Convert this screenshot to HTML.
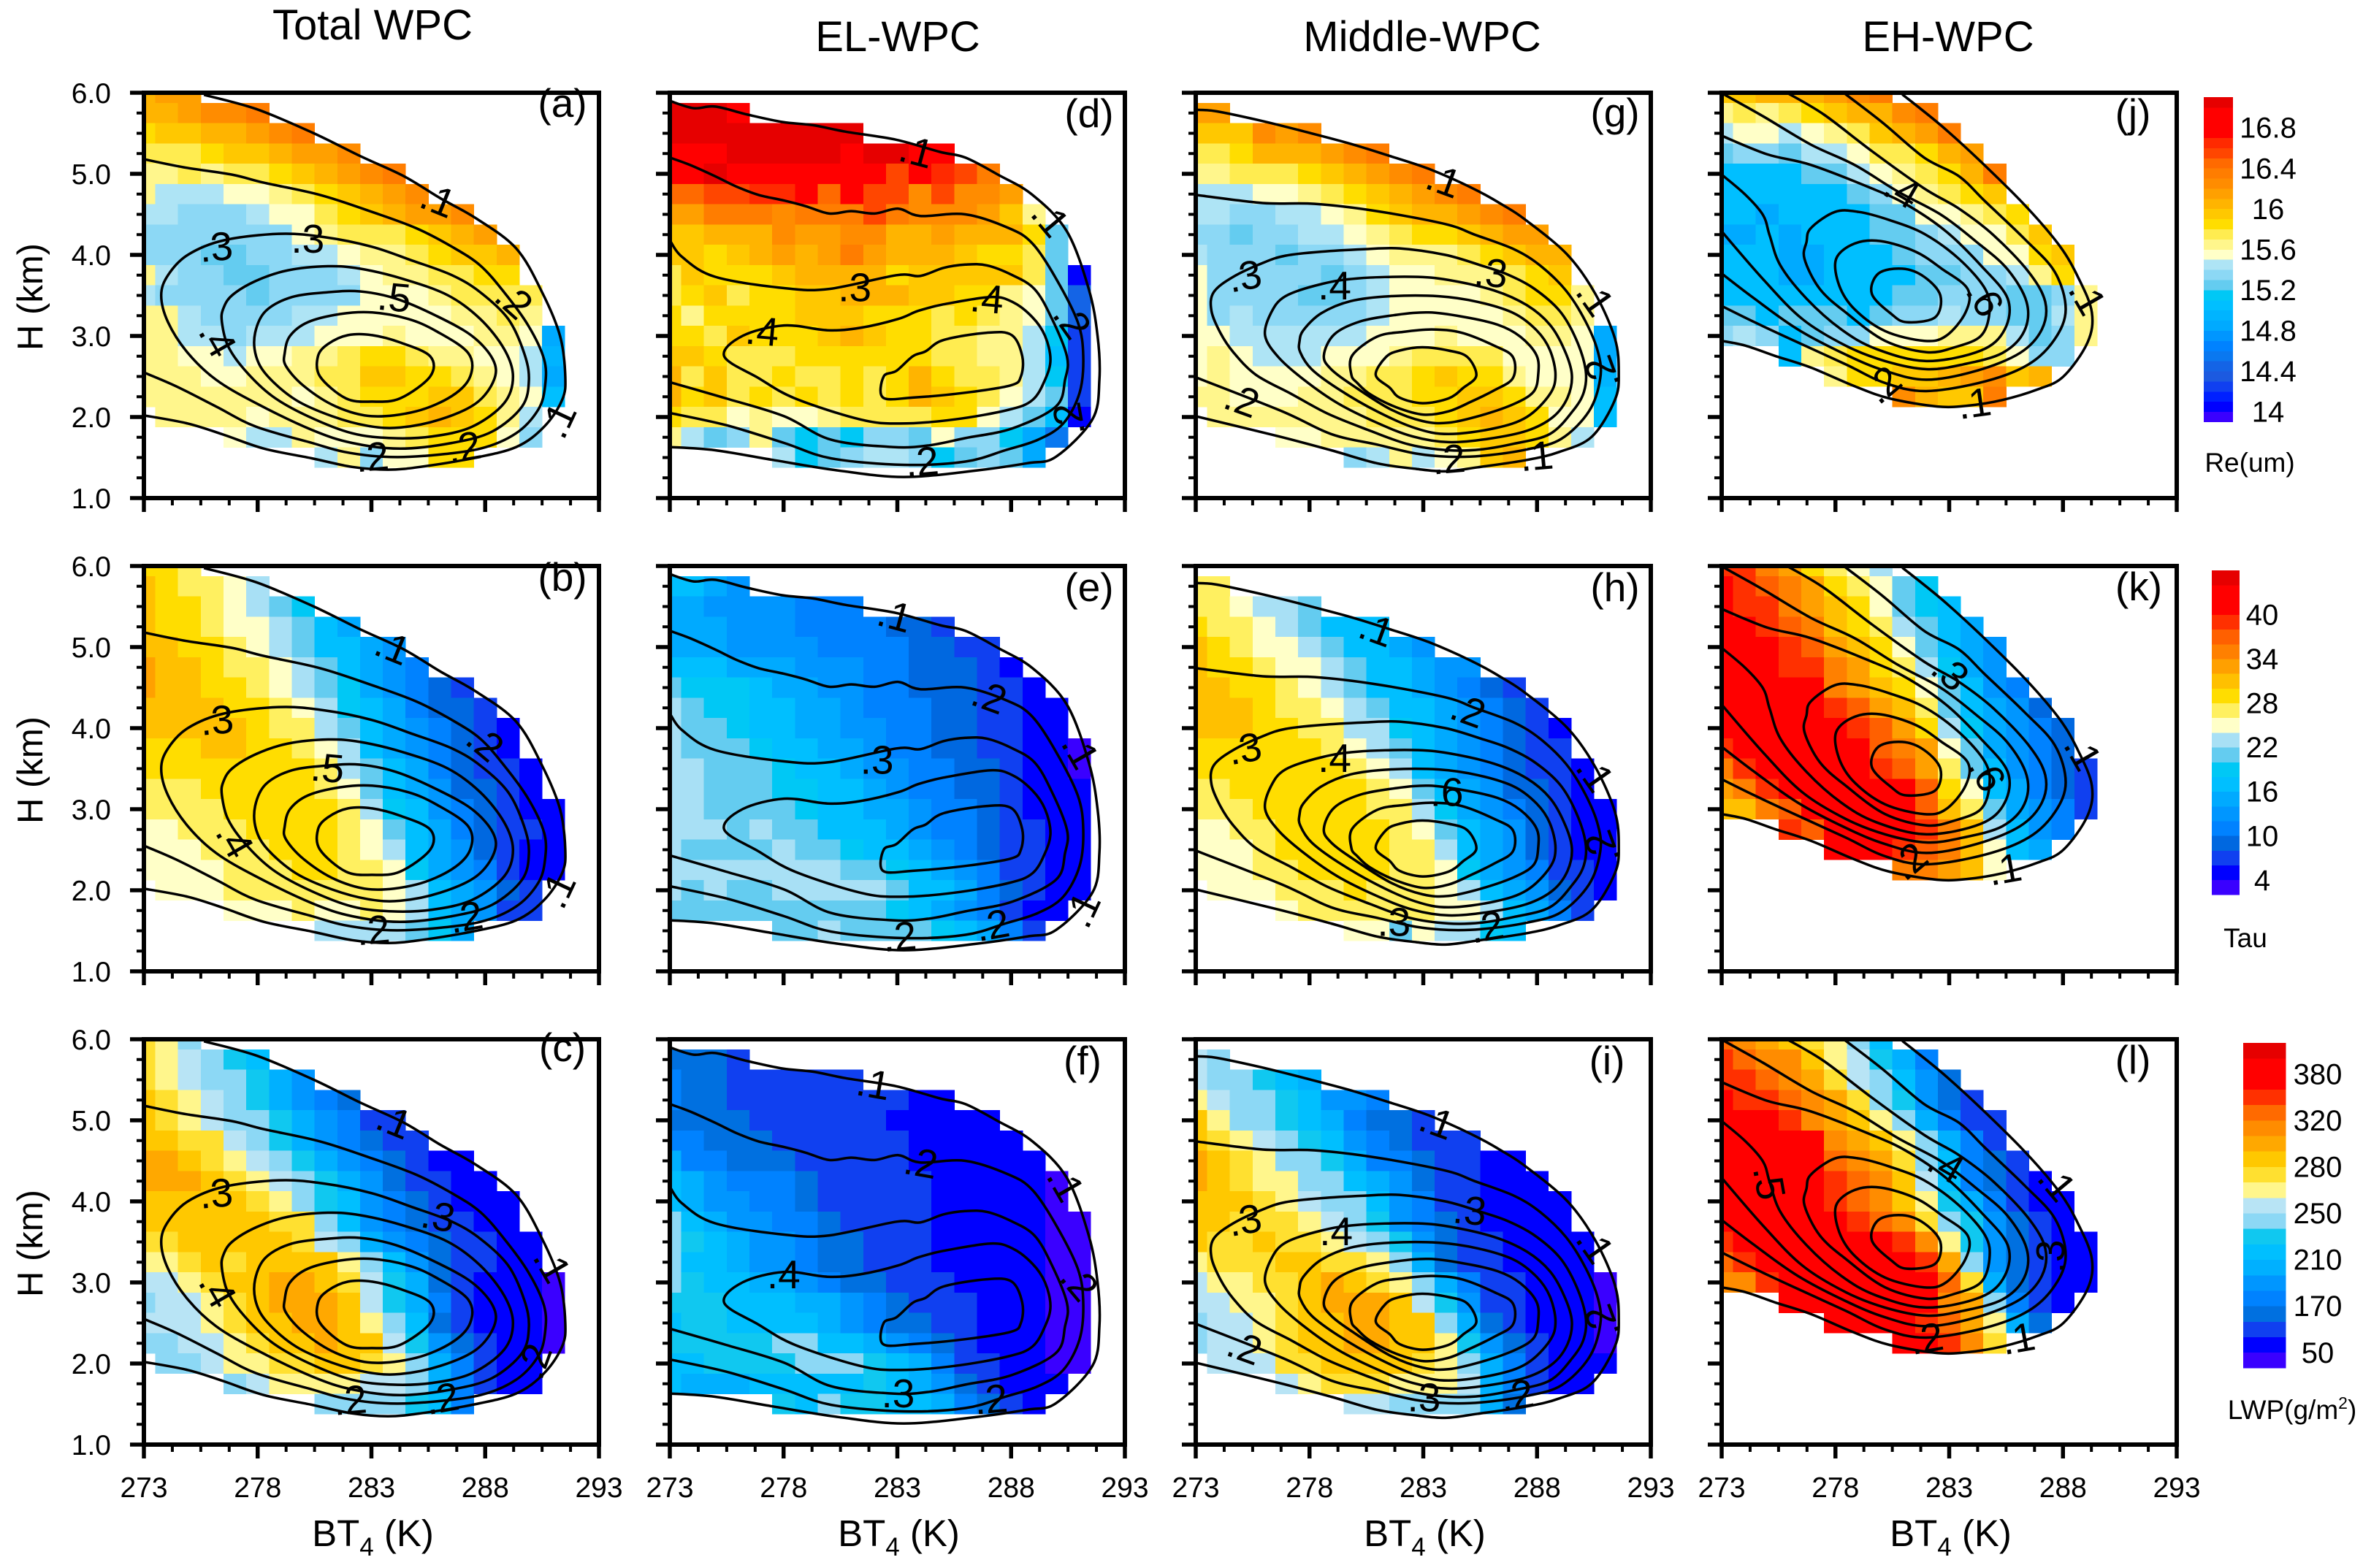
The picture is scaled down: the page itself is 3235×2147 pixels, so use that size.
<!DOCTYPE html>
<html lang="en">
<head>
<meta charset="utf-8">
<title>WPC cloud property panels</title>
<style>
html,body{margin:0;padding:0;background:#fff;}
svg{display:block;}
text{font-family:"Liberation Sans",Arial,sans-serif;fill:#000;}
</style>
</head>
<body>
<svg id="chart" xmlns="http://www.w3.org/2000/svg" width="3235" height="2147" viewBox="0 0 3235 2147">
<rect x="0" y="0" width="3235" height="2147" fill="#ffffff"></rect>
</svg>
<script>
const _ = null;
/* Tick labels */
const xTickValues = [273, 278, 283, 288, 293];
const yTickValues = [6, 5, 4, 3, 2, 1];
const yTickLabels = ['6.0', '5.0', '4.0', '3.0', '2.0', '1.0'];
const columnTitles = ['Total WPC', 'EL-WPC', 'Middle-WPC', 'EH-WPC'];

/* Colour scales */
const reLevels = [13.9,14,14.1,14.2,14.3,14.4,14.5,14.6,14.7,14.8,14.9,15,15.1,15.2,15.3,15.4,15.5,15.6,15.7,15.8,15.9,16,16.1,16.2,16.3,16.4,16.5,16.6,16.7,16.8,16.9,17,17.1];
const reColors = ['#3a00ff','#0000ff','#0020ff','#1040f0','#1c5ae0','#1464e6','#0a78f0','#0082ff','#0096ff','#00aaff','#00b4ff','#00bfff','#00c8f5','#64ccf0','#8cd8f5','#aee4f5','#ffffc8','#fff68c','#ffec50','#ffdd00','#ffc800','#ffb400','#ffa000','#ff8c00','#ff7d00','#ff6a00','#ff4600','#ff2a00','#ff0000','#ff0000','#ff0000','#e60000'];
const reTicks = [14,14.4,14.8,15.2,15.6,16,16.4,16.8];
const tauLevels = [2,4,6,8,10,12,14,16,18,20,22,24,26,28,30,32,34,36,38,40,42,44,46];
const tauColors = ['#3a00ff','#0000ff','#1040f0','#0068e0','#0082ff','#0096ff','#00aaff','#00bfff','#00c8f5','#64ccf0','#a8e0f5','#ffffc8','#fff060','#ffdd00','#ffc000','#ffa000','#ff8000','#ff6000','#ff3000','#ff0000','#ff0000','#e60000'];
const tauTicks = [4,10,16,22,28,34,40];
const lwpLevels = [10,50,90,130,170,183,197,210,223,237,250,260,270,280,293,307,320,340,360,380,400,420];
const lwpColors = ['#3a00ff','#0000ff','#1040f0','#0070e0','#0082ff','#0096ff','#00b0ff','#00bfff','#10c8f0','#8cd8f5','#b8e4f5','#fff68c','#ffe030','#ffc800','#ffa800','#ff8c00','#ff6a00','#ff3000','#ff0000','#ff0000','#e60000'];
const lwpTicks = [50,170,210,250,280,320,380];

/* Heatmap values: rows H = 6.0 ... 1.5 (0.25 km), columns BT4 = 273 ... 291 (1 K) */
const reTotal = [
[16,16.1,16.1],
[16,16,16.1,16.2,16.2,16.3],
[15.8,15.9,15.9,16,16,16.1,16.2,16.3],
[15.7,15.7,15.7,15.8,15.9,15.9,16,16.1,16.1,16.2],
[15.6,15.6,15.7,15.6,15.7,15.7,15.8,15.9,16,16.1,16.2,16.3],
[15.6,15.4,15.4,15.4,15.5,15.5,15.6,15.7,15.8,15.9,16,16.1,16.2],
[15.4,15.4,15.3,15.3,15.3,15.4,15.5,15.5,15.7,15.8,15.9,16,16.1,16.1,16.2],
[15.3,15.3,15.3,15.3,15.3,15.3,15.3,15.5,15.6,15.7,15.7,15.7,15.8,15.9,16,16.1],
[15.3,15.3,15.3,15.2,15.2,15.3,15.3,15.4,15.4,15.5,15.6,15.6,15.7,15.8,15.9,15.9,16],
[15.6,15.4,15.3,15.3,15.2,15.2,15.3,15.3,15.3,15.4,15.5,15.6,15.6,15.7,15.7,15.8,15.8],
[15.4,15.3,15.3,15.3,15.3,15.2,15.3,15.3,15.3,15.3,15.5,15.5,15.5,15.6,15.7,15.7,15.7,15.7],
[15.6,15.6,15.4,15.3,15.3,15.3,15.3,15.4,15.4,15.5,15.5,15.5,15.5,15.5,15.6,15.6,15.7,15.6],
[15.6,15.6,15.4,15.4,15.3,15.4,15.4,15.4,15.5,15.5,15.5,15.6,15.5,15.5,15.5,15.6,15.6,15.5,14.8],
[15.6,15.6,15.5,15.5,15.4,15.5,15.5,15.6,15.6,15.7,15.8,15.8,15.7,15.6,15.6,15.5,15.5,15.4,14.9],
[15.6,15.6,15.6,15.5,15.5,15.6,15.6,15.6,15.7,15.7,15.9,15.9,15.8,15.8,15.7,15.6,15.5,15.4,14.8],
[15.6,15.6,15.6,15.6,15.6,15.6,15.6,15.5,15.6,15.7,15.8,15.8,15.8,15.9,15.9,15.7,15.6,15.5,15],
[_,15.6,15.6,15.6,15.6,15.5,15.6,15.6,15.6,15.7,15.7,15.8,15.9,16,15.9,15.8,15.6,15.4],
[_,_,_,_,15.5,15.4,15.4,15.6,15.5,15.5,15.5,15.6,15.7,15.8,15.8,15.8,15.5,15.3],
[_,_,_,_,_,_,_,_,15.4,15.6,15.3,15.5,15.5,15.8,15.8]
];
const tauTotal = [
[28,28,26],
[30,28,26,26,24,22],
[30,28,28,26,24,22,20,18],
[30,28,28,26,24,24,22,20,16,14],
[30,30,28,28,26,24,22,20,16,16,14,12],
[32,30,30,28,26,26,24,22,20,16,14,12,10],
[32,30,30,28,28,26,24,22,20,18,14,12,10,8,6],
[30,30,30,30,28,28,26,24,22,18,16,14,10,8,8,6],
[30,30,30,30,30,28,26,26,22,20,16,14,12,10,8,6,4],
[28,28,28,30,30,28,28,26,24,22,16,14,12,10,8,6,4],
[28,28,28,28,28,28,28,28,26,22,20,16,14,10,8,6,6,4],
[26,26,26,28,28,28,28,28,26,24,20,16,14,12,8,8,6,4],
[26,26,26,26,28,28,28,28,28,26,22,18,16,12,10,8,6,4,4],
[24,24,26,26,26,28,28,28,28,26,24,20,16,14,10,8,6,6,4],
[24,24,24,26,26,26,28,28,28,26,24,22,16,14,12,8,6,4,4],
[24,24,24,24,26,26,26,28,28,26,26,24,18,14,12,10,6,4,4],
[_,24,24,24,26,26,26,26,26,26,26,24,22,16,14,12,8,6],
[_,_,_,_,24,24,24,26,24,24,26,24,22,16,14,12,6,6],
[_,_,_,_,_,_,_,_,22,22,22,22,20,18,14]
];
const lwpTotal = [
[275,265,243],
[275,265,255,243,230,216],
[275,265,255,243,243,230,204,190],
[286,275,265,255,243,230,204,190,176,150],
[286,275,265,255,243,243,230,204,190,176,110,110],
[286,286,275,275,255,243,230,204,190,176,150,110,110],
[300,300,286,275,265,255,243,230,204,190,176,150,110,70,70],
[300,300,300,286,275,265,255,243,230,204,190,150,110,110,70,70],
[286,286,286,286,286,275,265,243,230,216,190,176,150,110,70,70,70],
[286,286,286,286,286,286,275,275,243,216,190,176,150,110,110,70,70],
[275,275,286,286,286,286,286,275,255,243,204,190,176,150,110,110,70,70],
[265,265,275,286,275,286,286,286,286,265,243,216,190,150,110,110,70,70],
[255,255,265,275,286,286,300,300,286,275,255,230,204,150,110,70,70,70,30],
[243,255,255,265,275,286,300,300,300,286,255,230,204,176,110,70,70,70,30],
[255,255,255,265,275,286,286,300,300,286,265,243,216,150,110,70,70,70,30],
[243,243,255,255,265,275,286,286,300,286,286,255,230,190,150,110,70,70,30],
[_,243,243,255,265,265,275,275,286,286,275,265,243,204,176,110,70,70],
[_,_,_,_,243,255,265,265,265,265,255,255,243,204,176,110,70,70],
[_,_,_,_,_,_,_,_,243,243,243,243,230,216,176]
];
const reEL = [
[],
[17,17,17,16.8],
[17,17,17,17,17,17,17,17,17],
[16.8,16.8,16.8,17,17,17,17,17,16.8,17,17,16.8,16.8],
[16.8,16.8,17,16.8,16.8,16.8,16.8,16.8,16.8,16.8,16.5,16.8,16.6,16.5,16.3],
[16.4,16.4,16.5,16.5,16.6,16.6,16.7,16.4,16.8,16.5,16.5,16.2,16.5,16.2,16.2,16.1],
[16.1,16.1,16.3,16.3,16.3,16.2,16.3,16.3,16.3,16.5,16.3,16.2,16.2,16.2,16.1,15.9,15.6],
[15.9,15.9,16,16,16,16.2,16.1,16.1,16.2,16.2,16,16,16.1,16,16,16,15.8,15.2],
[15.9,15.9,15.8,15.9,16,16.1,16,16.1,16.3,16.1,16,16,16,15.9,15.8,15.8,15.7,15.2],
[15.7,15.9,15.8,15.8,15.8,15.9,16,16,16,16,15.8,15.9,15.9,15.9,15.9,15.9,15.7,15.2,14],
[15.7,15.8,15.9,15.7,15.8,15.8,15.9,15.9,16,16,16,15.9,15.9,15.8,15.8,15.6,15.5,15.2,14.4],
[15.8,15.6,15.8,15.8,15.8,15.8,15.9,15.9,15.9,15.8,15.8,15.8,15.7,15.8,15.7,15.6,15.5,15.2,14.4],
[15.8,15.8,15.7,15.9,15.8,15.8,15.8,15.9,16,15.9,15.8,15.8,15.7,15.7,15.6,15.6,15.4,15.1,14.2],
[15.9,15.9,15.8,15.7,15.7,15.7,15.8,15.8,15.8,15.8,15.8,15.8,15.7,15.7,15.6,15.6,15.4,15,14.2],
[16,15.7,15.9,15.7,15.7,15.8,15.7,15.7,15.8,15.7,15.8,16,15.8,15.7,15.7,15.6,15.4,15.1,14.2],
[16,15.8,15.9,15.7,15.8,15.7,15.8,15.7,15.8,15.7,15.8,16,15.9,15.8,15.7,15.5,15.4,15.2,14.2],
[15.8,15.7,15.7,15.5,15.6,15.5,15.5,15.6,15.7,15.7,15.7,15.7,15.8,15.8,15.5,15.4,15.2,15,14],
[15.6,15.4,15.2,15.3,15.6,15.2,15.1,15.2,15.1,15.3,15.3,15.2,15.5,15.3,15.3,15.1,14.8,14.5],
[_,_,_,_,_,15.4,15.1,15.2,15.3,15.4,15.4,15.3,15.1,15.2,15.3,15.2,14.8]
];
const tauEL = [
[],
[16,16,14,12],
[14,14,12,12,12,12,10,10,10],
[14,14,14,12,12,12,10,10,10,10,8,8,6],
[14,14,14,12,12,12,12,10,10,10,10,8,8,6,6],
[16,16,16,14,14,14,12,12,12,10,10,8,8,8,6,4],
[20,18,18,18,16,14,14,12,12,10,10,8,8,8,6,6,4],
[22,20,18,18,16,16,14,14,12,10,10,10,8,8,6,6,4,4],
[22,20,20,18,16,16,14,14,12,12,10,10,8,8,6,6,4,4],
[22,20,20,20,18,16,16,14,14,12,10,10,8,8,6,6,4,4,2],
[22,22,20,20,20,18,16,16,14,12,12,10,10,8,8,6,4,4,2],
[22,22,20,20,20,18,18,16,16,14,12,10,10,8,8,6,4,4,4],
[22,22,20,20,20,20,18,16,16,14,14,12,10,10,8,6,4,4,4],
[22,22,22,20,22,20,20,16,16,16,14,12,10,10,8,6,6,4,4],
[22,20,20,20,20,22,20,20,18,16,16,14,12,10,8,6,6,4,4],
[22,22,22,22,22,22,22,22,20,20,18,16,14,12,10,6,6,4,4],
[22,20,22,20,20,22,22,22,22,22,20,16,16,14,10,8,6,4,4],
[20,20,20,20,20,20,20,20,20,20,18,16,14,12,10,6,4,4],
[_,_,_,_,_,20,20,22,20,20,20,20,18,16,14,10,6]
];
const lwpEL = [
[],
[150,150,150,110],
[176,150,150,110,110,110,110,110,110],
[176,150,150,110,110,110,110,110,110,110,110,70,70],
[150,150,150,150,110,110,110,110,110,110,70,70,70,70,70],
[176,176,150,150,150,110,110,110,110,110,110,70,70,70,70,70],
[204,176,176,150,150,150,110,110,110,110,110,70,70,70,70,70,70],
[216,204,190,176,176,176,150,110,110,110,110,110,70,70,70,70,70,30],
[216,204,190,190,176,176,150,110,110,110,110,110,70,70,70,70,70,30],
[243,216,204,190,190,176,176,150,110,110,110,110,70,70,70,70,70,30,30],
[243,230,216,204,190,190,176,150,150,110,110,110,70,70,70,70,70,30,30],
[243,216,216,204,190,190,176,150,150,110,110,110,70,70,70,70,70,30,30],
[243,230,216,216,204,204,190,176,150,150,110,110,110,70,70,70,70,30,30],
[230,230,230,216,216,216,204,204,190,176,150,110,110,110,70,70,70,30,30],
[216,230,230,216,216,216,216,204,190,176,150,150,110,110,70,70,70,30,30],
[230,230,230,230,230,243,243,216,216,204,190,176,150,110,70,70,70,30,30],
[216,216,230,230,230,230,243,243,243,230,216,204,176,110,110,70,70,30,30],
[216,204,204,204,216,216,216,216,216,230,216,204,190,150,110,70,70,70],
[_,_,_,_,_,230,216,243,230,230,216,216,204,176,150,110,70]
];
const reMiddle = [
[],
[16.1,16.1],
[15.9,15.9,15.9,16.2,16.1,16.2],
[15.7,15.7,15.8,16,16,16,16.1,16.2,16.3],
[15.6,15.6,15.7,15.7,15.7,15.8,15.9,16,16.1,16.2,16.3],
[15.4,15.4,15.4,15.5,15.5,15.6,15.7,15.8,15.9,16,16.1,16.2,16.3],
[15.4,15.4,15.3,15.3,15.4,15.4,15.5,15.6,15.8,15.9,16,16,16.1,16.2,16.3],
[15.3,15.3,15.2,15.3,15.3,15.4,15.4,15.5,15.6,15.7,15.8,15.8,15.9,16,16.1,16.1],
[15.4,15.3,15.3,15.3,15.2,15.3,15.3,15.4,15.5,15.6,15.6,15.6,15.7,15.8,15.9,16,16],
[15.5,15.3,15.3,15.3,15.3,15.3,15.2,15.3,15.4,15.5,15.5,15.6,15.6,15.6,15.7,15.8,15.9],
[15.5,15.3,15.3,15.3,15.3,15.2,15.2,15.3,15.4,15.5,15.5,15.5,15.5,15.6,15.7,15.8,15.8,15.6],
[15.5,15.3,15.4,15.3,15.3,15.3,15.3,15.3,15.4,15.5,15.5,15.5,15.5,15.5,15.6,15.7,15.7,15.6],
[15.5,15.5,15.4,15.4,15.4,15.4,15.4,15.4,15.5,15.5,15.5,15.6,15.5,15.5,15.5,15.6,15.6,15.5,14.8],
[15.5,15.6,15.5,15.4,15.4,15.4,15.5,15.5,15.5,15.6,15.7,15.7,15.7,15.7,15.5,15.5,15.5,15.5,14.8],
[15.5,15.6,15.5,15.5,15.5,15.5,15.6,15.6,15.7,15.7,15.8,15.9,15.8,15.8,15.6,15.5,15.5,15.5,14.9],
[15.6,15.6,15.5,15.5,15.5,15.6,15.6,15.7,15.7,15.7,15.8,15.8,15.9,15.9,15.8,15.6,15.6,15.5,15],
[_,15.6,15.6,15.6,15.6,15.6,15.6,15.6,15.7,15.7,15.7,15.8,15.9,16,15.9,15.8,15.5,15.5,15],
[_,_,_,_,15.5,15.5,15.6,15.6,15.6,15.6,15.6,15.7,15.8,15.9,15.9,15.8,15.6,15.4],
[_,_,_,_,_,_,_,15.3,15.4,15.6,15.4,15.5,15.6,15.9,16]
];
const tauMiddle = [
[],
[26,26],
[26,26,24,22,22,20],
[28,26,26,24,22,20,16,16,16],
[30,28,26,24,24,22,20,16,16,14,12],
[30,28,28,26,24,24,22,20,16,16,14,12,12],
[30,30,28,28,26,24,22,20,16,16,14,12,10,8,6],
[30,30,30,28,26,26,24,22,20,16,16,14,12,10,8,6],
[30,30,30,28,28,26,26,22,22,18,16,14,12,10,8,6,4],
[28,28,28,28,28,28,26,24,22,20,16,14,12,10,8,6,6],
[28,28,28,28,28,28,28,26,24,22,16,14,12,10,8,6,6,4],
[26,26,28,28,28,28,28,28,26,24,20,16,14,12,8,8,6,4],
[26,26,26,28,28,28,28,28,26,26,22,18,14,12,10,8,6,4,4],
[24,24,26,26,28,28,28,28,28,26,24,20,16,14,12,8,6,4,4],
[24,24,24,26,28,28,28,28,28,26,26,22,16,14,12,8,6,4,4],
[24,24,24,26,26,28,28,28,28,26,26,24,18,14,12,10,6,6,4],
[_,24,24,24,26,26,26,28,26,26,26,24,22,16,14,12,8,6,4],
[_,_,_,_,24,26,26,26,26,26,26,24,24,22,16,14,10,6],
[_,_,_,_,_,_,_,24,24,20,24,22,22,18,16]
];
const lwpMiddle = [
[],
[255,243],
[255,243,243,230,216,204],
[265,255,243,243,230,216,190,190,176],
[286,265,243,243,230,216,204,176,150,150,110],
[286,275,265,255,243,230,216,190,176,150,110,110,110],
[300,286,275,265,243,243,230,204,176,176,150,110,110,70,70],
[300,286,275,265,265,243,243,216,204,190,150,110,110,70,70,70],
[286,286,286,275,265,255,243,243,216,190,176,110,110,70,70,70,70],
[286,286,275,275,275,265,255,243,230,190,176,150,110,70,70,70,70],
[286,275,275,286,275,275,265,255,243,230,190,150,110,110,70,70,70,70],
[265,275,275,275,286,286,275,275,265,243,204,150,110,110,70,70,70,70],
[255,265,265,275,275,286,300,286,275,265,243,204,176,110,110,70,70,70,30],
[255,255,265,265,275,286,300,300,300,286,255,230,190,110,110,70,70,70,30],
[243,255,255,265,275,286,286,300,300,286,286,243,204,150,110,70,70,70,30],
[243,255,255,265,275,286,286,300,300,286,286,265,230,190,150,110,70,70,30],
[_,255,255,255,275,275,286,286,286,286,275,265,243,204,176,110,70,70,70],
[_,_,_,_,255,265,275,275,275,265,265,265,255,204,176,110,70,70],
[_,_,_,_,_,_,_,255,255,243,243,243,243,204,150]
];
const reEH = [
[15.9,15.9,16,16,16,16.1,16.2,16.3],
[15.6,15.7,15.6,15.7,15.8,15.9,16,16,16.2,16.3],
[15.4,15.5,15.5,15.4,15.5,15.6,15.7,15.9,16,16.1,16.3],
[15.2,15.3,15.3,15.2,15.4,15.4,15.5,15.7,15.7,15.8,16,16.1],
[15,15,15,15,15.2,15.2,15.4,15.5,15.6,15.7,15.8,16,16.3],
[15,15,15,15,15,15,15.2,15.3,15.5,15.6,15.7,15.8,15.9],
[15,15,14.8,15,15,15,15,15.2,15.2,15.5,15.5,15.6,15.7,15.8],
[14.8,14.8,15,14.8,15,15,15,15.2,15.2,15.3,15.4,15.5,15.5,15.7,15.9],
[15,15,15,14.8,14.8,15,15,15,15.2,15.3,15.3,15.3,15.5,15.5,15.8,15.9],
[15,15,15,14.8,14.8,15,15,15,15,15.2,15.2,15.3,15.3,15.4,15.6,15.8],
[15,15,15,15,15,15,15,15,15.2,15.2,15.3,15.3,15.3,15.2,15.2,15.3,15.6],
[15.2,15.2,15,15.2,15.2,15.2,15,15.2,15.3,15.3,15.4,15.3,15.3,15.2,15.2,15.4,15.6],
[15.3,15.4,15.3,15,15.2,15.3,15.3,15.5,15.5,15.5,15.6,15.6,15.6,15.4,15.2,15.3,15.6],
[_,_,_,15,15.6,15.7,15.8,15.8,15.8,15.8,15.8,15.8,15.7,15.5,15.3,15.3],
[_,_,_,_,_,15.6,15.8,15.8,15.9,15.9,16,16.1,16.2,15.9,16],
[_,_,_,_,_,_,_,_,16.2,16,15.9,15.9,16.3],
[],
[],
[]
];
const tauEH = [
[38,38,34,32,28,26,24,22],
[40,38,36,34,32,28,26,24,20,18],
[40,38,38,34,32,30,28,24,20,18,16],
[40,40,38,36,34,30,28,26,22,20,16,14],
[40,40,40,38,36,32,30,28,24,20,16,14,12],
[40,40,40,38,38,34,32,28,26,22,18,14,12],
[40,40,40,40,40,34,32,30,28,24,20,16,12,10],
[40,40,40,40,40,38,36,32,30,26,20,16,14,12,8],
[40,40,40,40,40,40,38,36,32,28,22,18,14,12,10,8],
[38,40,40,40,40,40,40,36,34,32,24,20,14,12,10,8],
[34,38,40,40,40,40,40,38,36,32,26,20,16,12,10,8,6],
[32,34,38,40,40,40,40,40,40,36,28,24,16,14,10,8,6],
[30,30,34,36,40,40,40,40,40,36,30,26,20,14,12,10,6],
[_,_,_,38,36,40,40,40,40,38,34,30,22,16,12,10],
[_,_,_,_,_,40,40,40,38,36,34,30,24,16,14],
[_,_,_,_,_,_,_,_,34,34,32,30,24],
[],
[],
[]
];
const lwpEH = [
[330,313,300,286,275,265,243,216],
[350,330,313,313,286,265,255,230,204,176],
[350,350,330,313,300,275,255,243,216,190,150],
[370,350,350,330,313,300,275,243,230,190,150,110],
[370,370,370,350,313,300,286,265,243,204,176,110,110],
[370,370,370,370,370,313,300,286,265,243,204,176,110],
[370,370,370,370,370,330,313,300,275,243,216,176,150,110],
[370,370,370,370,370,350,330,313,286,255,216,176,150,110,70],
[370,370,370,370,370,350,330,313,286,265,230,204,176,110,70,70],
[370,370,370,370,370,370,350,330,313,275,243,230,190,150,110,70],
[350,370,370,370,370,370,370,370,350,313,265,230,190,150,110,70,70],
[330,350,370,370,370,370,370,370,370,350,300,243,190,150,110,70,70],
[313,313,350,370,370,370,370,370,370,370,330,275,204,150,110,70,70],
[_,_,_,370,370,370,370,370,370,370,313,300,243,176,110,70],
[_,_,_,_,_,370,370,370,370,350,330,300,265,204,150],
[_,_,_,_,_,_,_,_,370,370,350,313,275],
[],
[],
[]
];

/* Contour lines: flat lists of BT4, H */
const totalOpen = [
[275.64,5.975,277.93,5.8,280.39,5.51,282.5,5.22,284.43,4.97,286.02,4.7,287.6,4.45,289.36,4.08,290.5,3.54,291.29,3,291.52,2.5,291.38,2.21,290.59,1.88,289.36,1.63,287.42,1.49,285.14,1.385,283.73,1.35,282.15,1.385,280.39,1.49,278.28,1.61,276.52,1.78,274.93,1.92,273,2.02],
[273,5.18,274.76,5.08,276.87,4.99,278.28,4.89,280.74,4.74,283.03,4.53,284.96,4.33,286.54,4.1,287.78,3.87,288.83,3.54,289.89,3.13,290.59,2.71,290.63,2.38,290.33,2.09,289.36,1.8,287.78,1.61,285.31,1.52,283.55,1.51,281.8,1.57,280.39,1.68,277.93,1.88,276.17,2.13,274.41,2.38,273,2.55]
];
const totalClosed = [
[274.93,4,276.52,4.18,278.98,4.26,280.92,4.22,283.03,4.1,284.79,3.93,286.54,3.75,287.78,3.54,289.01,3.21,289.71,2.79,289.92,2.46,289.62,2.13,288.3,1.82,286.54,1.68,284.26,1.61,282.15,1.68,280.39,1.84,277.93,2.17,276.17,2.46,274.93,2.79,274.06,3.17,273.76,3.5,274.06,3.75],
[276.87,3.5,277.93,3.68,279.33,3.81,281.09,3.86,282.5,3.83,284.43,3.7,286.37,3.5,287.78,3.21,288.83,2.84,289.22,2.5,288.83,2.17,287.42,1.88,285.66,1.76,283.91,1.74,282.15,1.8,280.21,2.01,278.63,2.26,277.4,2.59,276.69,2.88,276.43,3.17,276.48,3.33],
[278.36,3.31,279.51,3.48,281.09,3.54,282.5,3.55,284.08,3.46,285.84,3.25,287.42,3,288.34,2.71,288.39,2.46,287.6,2.17,286.02,1.97,284.26,1.87,282.85,1.89,281.27,2.01,279.68,2.21,278.45,2.5,277.93,2.75,277.89,3.04],
[279.42,3,280.21,3.17,281.62,3.27,283.03,3.29,284.61,3.21,285.84,3.06,287.25,2.79,287.34,2.5,286.54,2.26,284.96,2.07,283.03,2.01,281.44,2.13,280.04,2.38,279.24,2.63,279.19,2.79],
[280.65,2.75,281.09,2.9,281.97,3.01,283.03,3.01,284.26,2.92,285.58,2.75,285.58,2.5,284.26,2.23,283.03,2.19,281.88,2.23,280.74,2.5]
];
const elOpen = [
[273,5.9,274.04,5.81,274.99,5.83,276.43,5.73,277.94,5.64,279.29,5.6,280.73,5.52,282.96,5.42,284.87,5.27,285.99,5.2,287.42,4.99,288.94,4.74,290.45,4.29,291.41,3.58,291.8,3,291.88,2.46,291.57,1.97,289.97,1.51,288.7,1.43,286.47,1.34,283.28,1.26,280.41,1.34,277.54,1.47,274.99,1.59,273,1.63],
[273,5.2,273.88,5.11,274.99,4.97,275.95,4.84,276.9,4.74,278.02,4.67,278.98,4.6,280.01,4.51,280.97,4.54,282,4.51,283.04,4.57,284,4.48,285.99,4.5,287.9,4.33,288.94,4.14,289.97,3.71,290.93,3.17,291.17,2.75,291.01,2.3,290.29,1.92,289.18,1.72,287.74,1.59,285.99,1.45,283.28,1.41,280.09,1.49,278.02,1.68,275.47,1.9,273,2.05],
[273,4.18,273.56,3.97,274.99,3.73,278.02,3.59,280.01,3.58,282.96,3.75,284,3.74,285.03,3.84,285.99,3.88,286.94,3.87,288.06,3.75,289.02,3.58,289.73,3.25,290.45,2.75,290.37,2.46,289.97,2.13,288.06,1.86,285.99,1.74,284.39,1.65,282.8,1.63,280.09,1.72,278.02,2.01,275.47,2.23,273,2.43]
];
const elClosed = [
[275.39,2.75,276.19,3,278.02,3.13,279.93,3.07,281.37,3.1,283.04,3.21,283.92,3.31,285.03,3.39,287.1,3.48,288.06,3.42,288.94,3.23,289.49,3,289.73,2.71,289.49,2.46,288.94,2.21,287.9,2.09,285.51,1.97,283.12,1.92,281.37,1.97,278.5,2.23,276.9,2.48],
[282.4,2.5,282.96,2.57,283.68,2.75,284.24,2.81,285.03,2.95,286.94,3.04,288.03,3.01,288.49,2.75,288.43,2.5,287.98,2.39,285.99,2.3,283.68,2.24,282.37,2.24]
];
const middleOpen = [
[273,5.79,273.93,5.77,275.94,5.65,277.8,5.52,279.81,5.37,281.53,5.22,283.25,5.06,285.11,4.83,286.41,4.63,287.55,4.42,289.34,4,290.56,3.52,291.42,2.97,291.59,2.55,291.42,2.21,290.42,1.76,288.99,1.57,287.55,1.47,285.4,1.38,283.97,1.33,282.68,1.36,280.96,1.43,278.95,1.59,276.66,1.76,273,2.01],
[273,4.74,275.94,4.64,278.23,4.63,280.96,4.54,283.97,4.38,285.26,4.25,286.98,4.07,288.13,3.87,289.27,3.56,290.13,3.18,290.68,2.8,290.78,2.48,290.28,2.07,289.06,1.73,287.55,1.6,285.54,1.52,284.11,1.51,282.68,1.55,280.96,1.66,278.95,1.79,276.8,2.07,273,2.49]
];
const middleClosed = [
[273.79,3.54,274.65,3.73,275.94,3.9,276.94,3.99,278.52,4.04,280.38,4.07,281.96,4.08,283.97,4,285.54,3.87,286.69,3.76,287.84,3.59,288.99,3.31,289.7,2.97,290.13,2.59,290.06,2.31,289.56,2.07,288.56,1.79,286.98,1.67,285.54,1.6,284.11,1.59,282.39,1.66,280.67,1.83,278.81,2.04,277.23,2.28,275.65,2.52,274.65,2.8,274.08,3.04,273.69,3.31],
[276.3,3.28,276.94,3.49,278.52,3.64,280.1,3.71,282.53,3.73,284.11,3.69,286.12,3.56,287.55,3.38,288.56,3.14,289.2,2.83,289.53,2.52,289.34,2.24,288.7,2,287.55,1.83,285.83,1.73,284.11,1.69,282.53,1.76,280.96,1.93,279.24,2.17,277.8,2.45,276.66,2.73,276.05,3],
[277.73,3.07,278.52,3.28,279.81,3.43,281.53,3.49,283.68,3.49,285.4,3.42,286.98,3.28,287.98,3.07,288.56,2.83,288.81,2.52,288.56,2.28,287.55,2,286.12,1.86,284.11,1.79,282.68,1.86,280.96,2.07,279.24,2.35,278.09,2.59,277.59,2.8,277.56,2.93],
[279.09,3.02,280.24,3.18,281.82,3.26,283.25,3.29,284.68,3.24,286.26,3.14,287.27,2.99,287.98,2.76,288.05,2.52,287.84,2.31,286.98,2.16,285.54,2.02,284.11,1.93,282.96,1.95,281.53,2.1,279.95,2.38,278.95,2.59,278.63,2.76],
[279.88,2.76,280.96,2.99,282.1,3.05,283.39,3.08,284.68,3.04,286.12,2.88,286.94,2.74,286.94,2.48,286.12,2.33,285.11,2.19,284.11,2.07,283.01,2.03,281.82,2.12,280.67,2.28,280.1,2.42,279.84,2.52],
[281.36,2.74,281.96,2.82,282.96,2.86,284.11,2.82,284.94,2.74,285.33,2.51,284.76,2.36,284.11,2.23,282.96,2.17,281.96,2.24,281.53,2.36,280.91,2.52]
];
const ehOpen = [
[280.94,5.98,282.67,5.59,284.39,5.15,286.3,4.62,287.83,4.12,288.69,3.71,289.27,3.29,289.08,2.92,288.02,2.5,286.88,2.34,285.34,2.21,283.81,2.14,282.47,2.13,280.37,2.23,278.84,2.38,276.92,2.61,275.39,2.75,274.05,2.88,273,2.94],
[278.36,6,280.08,5.63,281.9,5.2,283.43,4.97,284.58,4.66,286.3,4.2,287.64,3.79,288.12,3.33,287.64,2.96,286.49,2.65,284.58,2.44,282,2.32,280.18,2.42,278.45,2.65,276.35,2.92,274.44,3.17,273,3.37],
[275.87,6,277.5,5.73,279.6,5.28,281.9,4.82,283.43,4.57,284.96,4.24,286.49,3.79,287.22,3.42,287.07,3.08,286.11,2.79,284.2,2.57,282,2.46,280.18,2.57,278.45,2.77,276.35,3.08,274.44,3.46,273,3.77],
[273.1,5.98,274.82,5.71,276.92,5.36,278.84,5.11,280.75,4.78,282.67,4.49,284.2,4.16,285.54,3.83,286.4,3.42,286.3,3.06,285.34,2.79,283.62,2.65,282,2.59,280.18,2.69,278.45,2.88,276.54,3.21,274.82,3.7,273,4.29],
[273,5.47,275.01,5.24,276.92,5.11,279.6,4.82,281.13,4.62,282.86,4.29,284.39,3.87,285.57,3.46,285.44,3.08,284.39,2.82,282,2.69,279.79,2.84,278.26,3.08,276.73,3.46,275.58,3.87,275.11,4.24,274.82,4.49,274.05,4.74,273,4.99]
];
const ehClosed = [
[276.92,4.33,277.98,4.53,279.03,4.53,280.37,4.43,281.9,4.26,283.43,3.95,284.58,3.58,284.77,3.29,284.39,3,283.24,2.86,282,2.8,280.18,2.94,278.45,3.29,277.31,3.58,276.64,3.95,276.73,4.16],
[278.03,3.95,278.84,4.14,279.99,4.17,281.52,4.04,282.67,3.83,283.81,3.58,283.72,3.29,282.86,3,281.9,2.94,280.18,3.06,278.84,3.33,278.17,3.62],
[279.89,3.77,280.94,3.83,281.9,3.73,282.61,3.5,282.38,3.23,281.13,3.17,280.46,3.27,279.6,3.52]
];

/* Contour labels: text, BT4, H, rotation */
const labelsA = [['.1',285.93,4.68,22],['.3',276.17,4.1,-5],['.3',280.2,4.2,0],['.5',284,3.48,5],['.2',289.27,3.44,42],['.4',276.25,2.96,60],['.2',283.03,1.51,-5],['.2',287.07,1.63,-10],['.1',291.2,1.96,-65]];
const labelsB = [['.1',283.93,5,22],['.3',276.2,4.1,-5],['.5',281.07,3.51,5],['.2',288,3.82,40],['.4',277,2.62,60],['.2',283.07,1.51,-5],['.2',287.15,1.67,-10],['.1',291.17,2,-65]];
const labelsC = [['.1',284,4.99,22],['.3',276.17,4.1,-5],['.3',285.93,3.82,10],['.4',276.25,2.91,60],['.2',282.06,1.55,-5],['.2',286.1,1.57,-10],['.2',290.15,2.03,-70],['.1',290.95,3.22,60]];
const labelsD = [['.1',283.84,5.28,15],['.1',289.73,4.45,50],['.3',281.13,3.6,0],['.4',277.06,3.06,5],['.4',286.94,3.46,5],['.2',290.69,3.19,55],['.2',290.53,1.97,-100],['.2',284.08,1.45,-5]];
const labelsE = [['.1',282.88,5.39,15],['.2',287.04,4.39,20],['.3',282.1,3.61,0],['.1',291.05,3.72,60],['.1',291.12,1.76,-65],['.2',283.1,1.43,-5],['.2',287.18,1.57,-10]];
const labelsF = [['.1',281.95,5.45,10],['.2',284.03,4.48,10],['.1',290.4,4.22,60],['.4',278,3.1,0],['.2',291,3,50],['.3',283.03,1.63,0],['.2',287.11,1.56,-5]];
const labelsG = [['.1',283.9,4.92,20],['.1',290.56,3.47,55],['.3',275.15,3.74,-10],['.4',279.1,3.62,0],['.3',285.97,3.78,5],['.2',290.85,2.54,-110],['.2',275.03,2.21,20],['.2',284.11,1.48,-5],['.1',287.98,1.52,-5]];
const labelsH = [['.1',280.95,5.22,20],['.2',284.97,4.22,20],['.1',290.56,3.44,55],['.3',275.15,3.75,-10],['.4',279.1,3.63,0],['.6',284.03,3.21,0],['.3',281.71,1.61,0],['.2',285.79,1.55,-10],['.2',290.85,2.52,-110]];
const labelsI = [['.1',283.6,4.98,20],['.1',290.56,3.46,55],['.3',275.15,3.77,-10],['.4',279.17,3.63,0],['.3',285.04,3.89,5],['.2',290.85,2.51,-110],['.2',275.15,2.2,20],['.3',283.03,1.58,0],['.2',287.11,1.61,-10]];
const labelsJ = [['.4',280.94,4.8,30],['.6',284.58,3.46,60],['.1',289.08,3.48,60],['.2',280.08,2.4,-40],['.1',284.1,2.17,-8]];
const labelsK = [['.3',283.05,4.69,40],['.6',284.67,3.44,60],['.1',288.88,3.7,60],['.2',281.23,2.36,-40],['.1',285.44,2.26,-10]];
const labelsL = [['.5',275.1,4.23,80],['.4',282.86,4.45,30],['.1',287.74,4.23,50],['.3',287.45,3.32,-90],['.2',282,2.31,-10],['.1',286.03,2.31,-10]];

/* Panel layout */
const PLOT_W = 623, PLOT_H = 555;
const colLefts = [197, 917, 1637, 2357];
const rowTops = [127, 775, 1423];
const titleX = [510, 1229, 1947, 2667];
const titleBase = [54, 70, 70, 70];

const reScale = {levels: reLevels, colors: reColors};
const tauScale = {levels: tauLevels, colors: tauColors};
const lwpScale = {levels: lwpLevels, colors: lwpColors};

const panels = [
{tag:'a',col:0,row:0,grid:reTotal,scale:reScale,open:totalOpen,closed:totalClosed,labels:labelsA,lx:770,ly:160},
{tag:'b',col:0,row:1,grid:tauTotal,scale:tauScale,open:totalOpen,closed:totalClosed,labels:labelsB,lx:770,ly:809},
{tag:'c',col:0,row:2,grid:lwpTotal,scale:lwpScale,open:totalOpen,closed:totalClosed,labels:labelsC,lx:770,ly:1453},
{tag:'d',col:1,row:0,grid:reEL,scale:reScale,open:elOpen,closed:elClosed,labels:labelsD,lx:1491,ly:174},
{tag:'e',col:1,row:1,grid:tauEL,scale:tauScale,open:elOpen,closed:elClosed,labels:labelsE,lx:1491,ly:823},
{tag:'f',col:1,row:2,grid:lwpEL,scale:lwpScale,open:elOpen,closed:elClosed,labels:labelsF,lx:1482,ly:1471},
{tag:'g',col:2,row:0,grid:reMiddle,scale:reScale,open:middleOpen,closed:middleClosed,labels:labelsG,lx:2211,ly:173},
{tag:'h',col:2,row:1,grid:tauMiddle,scale:tauScale,open:middleOpen,closed:middleClosed,labels:labelsH,lx:2211,ly:823},
{tag:'i',col:2,row:2,grid:lwpMiddle,scale:lwpScale,open:middleOpen,closed:middleClosed,labels:labelsI,lx:2200,ly:1471},
{tag:'j',col:3,row:0,grid:reEH,scale:reScale,open:ehOpen,closed:ehClosed,labels:labelsJ,lx:2920,ly:174},
{tag:'k',col:3,row:1,grid:tauEH,scale:tauScale,open:ehOpen,closed:ehClosed,labels:labelsK,lx:2928,ly:822},
{tag:'l',col:3,row:2,grid:lwpEH,scale:lwpScale,open:ehOpen,closed:ehClosed,labels:labelsL,lx:2920,ly:1470}
];

const bars = [
{name:'re',scale:reScale,ticks:reTicks,x:3017,w:40,top:133,bottom:577.6,labelX:3105,title:'Re(um)',titleX:3080,titleY:646},
{name:'tau',scale:tauScale,ticks:tauTicks,x:3028,w:38,top:781,bottom:1225,labelX:3097,title:'Tau',titleX:3074,titleY:1297},
{name:'lwp',scale:lwpScale,ticks:lwpTicks,x:3071,w:58.5,top:1428,bottom:1873,labelX:3173,title:'LWP(g/m',titleX:3138,titleY:1943}
];

const NS = 'http://www.w3.org/2000/svg';
const root = document.getElementById('chart');
function make(tag, parent) {
  const el = document.createElementNS(NS, tag);
  parent.appendChild(el);
  return el;
}
function setAll(el, props) {
  for (const k in props) el.setAttribute(k, props[k]);
}
function makeText(parent, str, x, y, size, anchor) {
  const t = make('text', parent);
  setAll(t, {x: x, y: y, 'font-size': size, 'text-anchor': anchor || 'middle'});
  t.textContent = str;
  return t;
}
function xScale(p, t) { return p.left + (t - 273) / 20 * PLOT_W; }
function yScale(p, h) { return p.top + (6 - h) / 5 * PLOT_H; }
function colorFor(scale, v) {
  const L = scale.levels;
  for (let i = 0; i < scale.colors.length; i++) {
    if (v >= L[i] && v < L[i + 1]) return scale.colors[i];
  }
  return v < L[0] ? scale.colors[0] : scale.colors[scale.colors.length - 1];
}
function contourPath(p, flat, closed) {
  const pts = [];
  for (let i = 0; i < flat.length; i += 2) pts.push([xScale(p, flat[i]), yScale(p, flat[i + 1])]);
  const n = pts.length;
  const at = function (i) {
    if (closed) return pts[(i + n) % n];
    return pts[Math.max(0, Math.min(n - 1, i))];
  };
  let d = 'M' + pts[0][0].toFixed(1) + ' ' + pts[0][1].toFixed(1);
  const segs = closed ? n : n - 1;
  for (let i = 0; i < segs; i++) {
    const a = at(i - 1), b = at(i), c = at(i + 1), e = at(i + 2);
    const c1x = b[0] + (c[0] - a[0]) / 6, c1y = b[1] + (c[1] - a[1]) / 6;
    const c2x = c[0] - (e[0] - b[0]) / 6, c2y = c[1] - (e[1] - b[1]) / 6;
    d += 'C' + c1x.toFixed(1) + ' ' + c1y.toFixed(1) + ' ' + c2x.toFixed(1) + ' ' + c2y.toFixed(1) + ' ' + c[0].toFixed(1) + ' ' + c[1].toFixed(1);
  }
  return closed ? d + 'Z' : d;
}

/* Column titles */
columnTitles.forEach(function (title, i) {
  const t = makeText(root, title, titleX[i], titleBase[i], 58);
  
  
});

const defs = make('defs', root);

panels.forEach(function (cfg) {
  const p = {left: colLefts[cfg.col], top: rowTops[cfg.row]};
  const g = make('g', root);
  
  

  /* heatmap */
  const cellsG = make('g', g);
  
  
  cellsG.setAttribute('shape-rendering', 'crispEdges');
  cfg.grid.forEach(function (row, r) {
    const H = 6 - 0.25 * r;
    row.forEach(function (v, c) {
      if (v === null) return;
      const T = 273 + c;
      const x0 = Math.max(xScale(p, T - 0.5), p.left);
      const x1 = xScale(p, T + 0.5);
      const y0 = Math.max(yScale(p, H + 0.125), p.top);
      const y1 = yScale(p, H - 0.125);
      const cell = make('rect', cellsG);
      setAll(cell, {x: x0.toFixed(1), y: y0.toFixed(1), width: (x1 - x0 + 0.4).toFixed(1), height: (y1 - y0 + 0.4).toFixed(1), fill: colorFor(cfg.scale, v)});
      
      
    });
  });

  /* contours */
  const clip = make('clipPath', defs);
  clip.setAttribute('id', 'clip-' + cfg.tag);
  const clipRect = make('rect', clip);
  setAll(clipRect, {x: p.left, y: p.top, width: PLOT_W, height: PLOT_H});
  const linesG = make('g', g);
  linesG.setAttribute('clip-path', 'url(#clip-' + cfg.tag + ')');
  
  
  cfg.open.forEach(function (flat) {
    const path = make('path', linesG);
    setAll(path, {d: contourPath(p, flat, false), fill: 'none', stroke: '#000', 'stroke-width': 3.5, 'stroke-linejoin': 'round'});
    
    
  });
  cfg.closed.forEach(function (flat) {
    const path = make('path', linesG);
    setAll(path, {d: contourPath(p, flat, true), fill: 'none', stroke: '#000', 'stroke-width': 3.5, 'stroke-linejoin': 'round'});
    
    
  });

  /* contour labels */
  cfg.labels.forEach(function (lab) {
    const x = xScale(p, lab[1]);
    const y = yScale(p, lab[2]);
    const t = makeText(g, lab[0], x.toFixed(1), (y + 19).toFixed(1), 55);
    t.setAttribute('transform', 'rotate(' + lab[3] + ' ' + x.toFixed(1) + ' ' + y.toFixed(1) + ')');
    
    
  });

  /* frame */
  const frame = make('rect', g);
  setAll(frame, {x: p.left, y: p.top, width: PLOT_W, height: PLOT_H, fill: 'none', stroke: '#000', 'stroke-width': 6});
  
  

  /* y ticks */
  for (let h = 1; h <= 6.001; h += 0.25) {
    const major = Math.abs(h - Math.round(h)) < 1e-6;
    const y = yScale(p, h);
    const tick = make('line', g);
    setAll(tick, {x1: p.left - (major ? 19 : 10), x2: p.left, y1: y, y2: y, stroke: '#000', 'stroke-width': major ? 5.5 : 4});
    
    
  }
  /* x ticks */
  for (let v = 273; v <= 293.001; v += 1.25) {
    const major = Math.abs((v - 273) / 5 - Math.round((v - 273) / 5)) < 1e-6;
    const x = xScale(p, v);
    const tick = make('line', g);
    setAll(tick, {x1: x, x2: x, y1: p.top + PLOT_H, y2: p.top + PLOT_H + (major ? 19 : 10), stroke: '#000', 'stroke-width': major ? 5.5 : 4});
    
    
  }

  /* y tick labels and axis title for the first column */
  if (cfg.col === 0) {
    yTickValues.forEach(function (v, i) {
      const t = makeText(g, yTickLabels[i], p.left - 45, yScale(p, v) + 14, 39, 'end');
      
      
    });
    const cy = p.top + PLOT_H / 2 + 2;
    const yt = makeText(g, 'H (km)', 58, cy, 49);
    yt.setAttribute('transform', 'rotate(-90 58 ' + cy + ')');
    
    
  }
  /* x tick labels and axis title for the bottom row */
  if (cfg.row === 2) {
    xTickValues.forEach(function (v) {
      const t = makeText(g, String(v), xScale(p, v), p.top + PLOT_H + 72, 39);
      
      
    });
    const xt = make('text', g);
    setAll(xt, {x: p.left + PLOT_W / 2 + 2, y: p.top + PLOT_H + 139, 'font-size': 51, 'text-anchor': 'middle'});
    
    
    const s1 = make('tspan', xt);
    s1.textContent = 'BT';
    const s2 = make('tspan', xt);
    setAll(s2, {'font-size': 35, dy: 13});
    s2.textContent = '4';
    const s3 = make('tspan', xt);
    setAll(s3, {dy: -13});
    s3.textContent = ' (K)';
  }

  /* panel letter */
  const letter = makeText(g, '(' + cfg.tag + ')', cfg.lx, cfg.ly, 55);
  
  
});

/* Colour bars */
bars.forEach(function (bar) {
  const g = make('g', root);
  
  
  const n = bar.scale.colors.length;
  const boxH = (bar.bottom - bar.top) / n;
  const swG = make('g', g);
  swG.setAttribute('shape-rendering', 'crispEdges');
  
  
  bar.scale.colors.forEach(function (color, i) {
    const r = make('rect', swG);
    setAll(r, {x: bar.x, y: (bar.bottom - (i + 1) * boxH).toFixed(1), width: bar.w, height: (boxH + 0.4).toFixed(1), fill: color});
    
    
  });
  bar.ticks.forEach(function (v) {
    const idx = bar.scale.levels.indexOf(v);
    const y = bar.bottom - idx * boxH;
    const t = makeText(g, String(v), bar.labelX, y + 14, 40);
    
    
  });
  const title = makeText(g, bar.title, bar.titleX, bar.titleY, 37);
  
  
  if (bar.name === 'lwp') {
    const sup = make('tspan', title);
    setAll(sup, {'font-size': 23, dy: -14});
    sup.textContent = '2';
    const tail = make('tspan', title);
    setAll(tail, {dy: 14});
    tail.textContent = ')';
  }
});
</script>
</body>
</html>
